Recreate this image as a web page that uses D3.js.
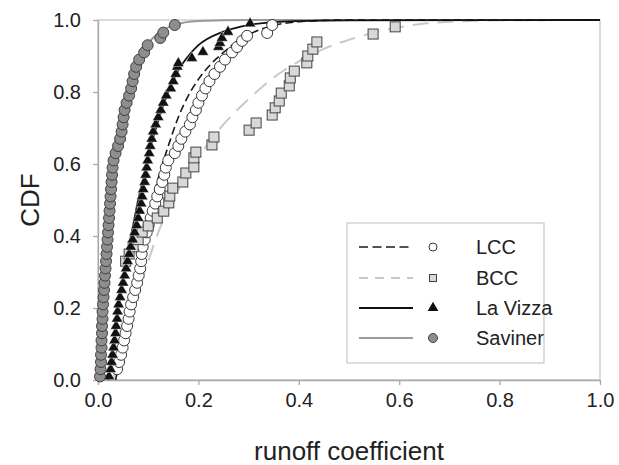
<!DOCTYPE html>
<html>
<head>
<meta charset="utf-8">
<script src="https://cdn.jsdelivr.net/npm/d3@7"></script>
<style>
  body { margin: 0; background: #fff; }
  text { font-family: "Liberation Sans", Arial, sans-serif; fill: #222; }
</style>
</head>
<body>
<div id="chart"></div>
<script>
const SIZE = { width: 619, height: 465 };
const MARGIN = { left: 98, right: 19, top: 20, bottom: 85 };

// tick values
const xTicks = [0, 0.2, 0.4, 0.6, 0.8, 1.0];
const yTicks = [0, 0.2, 0.4, 0.6, 0.8, 1.0];

// observed points, [runoff coefficient, CDF]
const saviner = [
  [0.004,0.01],[0.005,0.03],[0.006,0.05],[0.006,0.07],[0.007,0.09],[0.007,0.11],[0.008,0.13],
  [0.008,0.15],[0.009,0.17],[0.009,0.19],[0.010,0.21],[0.011,0.23],[0.012,0.25],[0.013,0.27],
  [0.014,0.29],[0.015,0.31],[0.016,0.33],[0.017,0.35],[0.018,0.37],[0.019,0.39],[0.020,0.41],
  [0.021,0.43],[0.022,0.45],[0.023,0.47],[0.024,0.49],[0.025,0.51],[0.026,0.53],[0.027,0.55],
  [0.028,0.57],[0.029,0.59],[0.031,0.61],[0.035,0.63],[0.040,0.65],[0.044,0.67],[0.047,0.69],
  [0.049,0.71],[0.051,0.73],[0.053,0.75],[0.057,0.77],[0.062,0.79],[0.066,0.81],[0.069,0.83],
  [0.072,0.85],[0.076,0.87],[0.082,0.89],[0.092,0.91],[0.099,0.93],[0.124,0.95],[0.130,0.965],
  [0.153,0.986]
];
const laVizza = [
  [0.022,0.01],[0.025,0.03],[0.027,0.05],[0.029,0.07],[0.031,0.09],[0.033,0.11],[0.035,0.13],
  [0.036,0.15],[0.038,0.17],[0.039,0.19],[0.041,0.21],[0.044,0.23],[0.047,0.25],[0.050,0.27],
  [0.053,0.29],[0.056,0.31],[0.059,0.33],[0.062,0.35],[0.065,0.37],[0.069,0.39],[0.073,0.41],
  [0.077,0.43],[0.080,0.45],[0.083,0.47],[0.086,0.49],[0.088,0.51],[0.090,0.53],[0.093,0.55],
  [0.095,0.57],[0.097,0.59],[0.099,0.61],[0.102,0.63],[0.104,0.65],[0.107,0.67],[0.110,0.69],
  [0.115,0.71],[0.120,0.73],[0.125,0.75],[0.130,0.77],[0.136,0.79],[0.145,0.81],[0.150,0.83],
  [0.155,0.85],[0.158,0.87],[0.160,0.88],[0.187,0.894],[0.209,0.911],[0.240,0.925],
  [0.243,0.936],[0.247,0.95],[0.259,0.967],[0.303,0.99]
];
const lcc = [
  [0.038,0.03],[0.042,0.05],[0.046,0.07],[0.049,0.09],[0.052,0.11],[0.055,0.13],[0.058,0.15],
  [0.061,0.17],[0.063,0.19],[0.066,0.21],[0.070,0.23],[0.074,0.25],[0.078,0.27],[0.081,0.29],
  [0.084,0.31],[0.086,0.33],[0.087,0.35],[0.089,0.37],[0.093,0.39],[0.097,0.41],[0.101,0.43],
  [0.105,0.45],[0.109,0.47],[0.114,0.49],[0.118,0.51],[0.123,0.53],[0.128,0.55],[0.132,0.57],
  [0.135,0.59],[0.140,0.61],[0.153,0.63],[0.160,0.65],[0.166,0.67],[0.174,0.69],[0.183,0.71],
  [0.188,0.73],[0.195,0.75],[0.200,0.77],[0.207,0.79],[0.214,0.81],[0.222,0.83],[0.232,0.85],
  [0.243,0.87],[0.253,0.89],[0.267,0.91],[0.277,0.925],[0.287,0.942],[0.297,0.956],
  [0.337,0.964],[0.347,0.986]
];
const bcc = [
  [0.055,0.33],[0.062,0.35],[0.070,0.37],[0.080,0.39],[0.088,0.411],[0.100,0.428],[0.118,0.45],
  [0.131,0.469],[0.141,0.492],[0.143,0.511],[0.149,0.533],[0.169,0.55],[0.175,0.575],
  [0.191,0.592],[0.191,0.617],[0.195,0.633],[0.227,0.653],[0.231,0.675],[0.301,0.694],
  [0.315,0.714],[0.347,0.736],[0.353,0.756],[0.361,0.775],[0.365,0.797],[0.381,0.817],
  [0.383,0.839],[0.391,0.858],[0.416,0.881],[0.418,0.9],[0.428,0.919],[0.436,0.939],
  [0.548,0.961],[0.592,0.981]
];

// fitted curves
const savinerFit = [
  [0,0],[0.005,0.12],[0.01,0.24],[0.02,0.42],[0.03,0.56],[0.04,0.67],[0.05,0.75],[0.06,0.81],
  [0.08,0.89],[0.10,0.935],[0.12,0.963],[0.15,0.985],[0.2,0.997],[0.3,1],[1,1]
];
const laVizzaFit = [
  [0.02,0],[0.03,0.08],[0.04,0.19],[0.05,0.28],[0.06,0.36],[0.07,0.43],[0.08,0.50],[0.09,0.56],
  [0.10,0.62],[0.12,0.72],[0.14,0.80],[0.16,0.86],[0.18,0.90],[0.20,0.93],[0.25,0.968],
  [0.30,0.986],[0.35,0.994],[0.40,0.997],[0.5,0.999],[1,1]
];
const lccFit = [
  [0.035,0],[0.05,0.10],[0.06,0.18],[0.07,0.26],[0.08,0.33],[0.09,0.39],[0.10,0.45],[0.12,0.56],
  [0.14,0.65],[0.16,0.73],[0.18,0.79],[0.20,0.835],[0.22,0.87],[0.25,0.91],[0.28,0.943],
  [0.32,0.972],[0.36,0.988],[0.40,0.995],[0.45,0.999],[0.5,1],[1,1]
];
const bccFit = [
  [0.03,0],[0.05,0.11],[0.08,0.25],[0.10,0.33],[0.12,0.41],[0.15,0.50],[0.18,0.58],[0.20,0.62],
  [0.25,0.71],[0.30,0.78],[0.35,0.84],[0.40,0.885],[0.45,0.92],[0.50,0.945],[0.55,0.965],
  [0.60,0.98],[0.65,0.99],[0.70,0.995],[0.80,0.999],[1.0,1.0]
];

const legendNames = ["LCC", "BCC", "La Vizza", "Saviner"];

const svg = d3.select("#chart").append("svg")
  .attr("width", SIZE.width)
  .attr("height", SIZE.height);

const xScale = d3.scaleLinear().domain([0, 1]).range([MARGIN.left, SIZE.width - MARGIN.right]);
const yScale = d3.scaleLinear().domain([0, 1]).range([SIZE.height - MARGIN.bottom, MARGIN.top]);

// plot frame
svg.append("rect")
  .attr("x", MARGIN.left).attr("y", MARGIN.top)
  .attr("width", xScale(1) - MARGIN.left).attr("height", yScale(0) - MARGIN.top)
  .attr("fill", "none").attr("stroke", "#c4c4c4").attr("stroke-width", 1.2);

const xAxis = d3.axisBottom(xScale).tickValues(xTicks).tickFormat(d3.format(".1f"))
  .tickSize(5).tickPadding(8).tickSizeOuter(0);
const yAxis = d3.axisLeft(yScale).tickValues(yTicks).tickFormat(d3.format(".1f"))
  .tickSize(5).tickPadding(12).tickSizeOuter(0);

const xG = svg.append("g").attr("transform", `translate(0, ${yScale(0)})`).call(xAxis);
const yG = svg.append("g").attr("transform", `translate(${MARGIN.left}, 0)`).call(yAxis);
[xG, yG].forEach(g => {
  g.select(".domain").attr("stroke", "#a8a8a8").attr("stroke-width", 1.3);
  g.selectAll(".tick line").attr("stroke", "#a8a8a8").attr("stroke-width", 1.3);
  g.selectAll(".tick text").style("font-size", "20px").attr("fill", "#222");
});

svg.append("text")
  .attr("x", (xScale(0) + xScale(1)) / 2).attr("y", 460)
  .attr("text-anchor", "middle").style("font-size", "26px")
  .text("runoff coefficient");
svg.append("text")
  .attr("transform", `translate(39, ${yScale(0.5)}) rotate(-90)`)
  .attr("text-anchor", "middle").style("font-size", "26px")
  .text("CDF");

const line = d3.line().x(d => xScale(d[0])).y(d => yScale(d[1])).curve(d3.curveMonotoneX);

const styles = {
  lcc:     { stroke: "#1a1a1a", width: 1.6, dash: "8,4" },
  bcc:     { stroke: "#c8c8c8", width: 2,   dash: "16,9" },
  laVizza: { stroke: "#111",    width: 1.8, dash: null },
  saviner: { stroke: "#9a9a9a", width: 2,   dash: null },
};

const visual = svg.append("g");
[[bccFit, styles.bcc], [savinerFit, styles.saviner], [lccFit, styles.lcc], [laVizzaFit, styles.laVizza]]
  .forEach(([data, s]) => {
    visual.append("path").datum(data)
      .attr("d", line)
      .attr("fill", "none")
      .attr("stroke", s.stroke)
      .attr("stroke-width", s.width)
      .attr("stroke-dasharray", s.dash);
  });

// markers
visual.append("g").selectAll("circle").data(lcc).enter().append("circle")
  .attr("cx", d => xScale(d[0])).attr("cy", d => yScale(d[1])).attr("r", 5.5)
  .attr("fill", "#fff").attr("stroke", "#222").attr("stroke-width", 0.9);

visual.append("g").selectAll("rect").data(bcc).enter().append("rect")
  .attr("x", d => xScale(d[0]) - 5).attr("y", d => yScale(d[1]) - 5)
  .attr("width", 10).attr("height", 10)
  .attr("fill", "#d8d8d8").attr("stroke", "#444").attr("stroke-width", 1);

const tri = d3.symbol().type(d3.symbolTriangle).size(55);
visual.append("g").selectAll("path").data(laVizza).enter().append("path")
  .attr("d", tri)
  .attr("transform", d => `translate(${xScale(d[0])}, ${yScale(d[1])})`)
  .attr("fill", "#111").attr("stroke", "#fff").attr("stroke-width", 0.4);

visual.append("g").selectAll("circle").data(saviner).enter().append("circle")
  .attr("cx", d => xScale(d[0])).attr("cy", d => yScale(d[1])).attr("r", 5.5)
  .attr("fill", "#8e8e8e").attr("stroke", "#333").attr("stroke-width", 0.9);

// legend
const legend = svg.append("g");
legend.append("rect")
  .attr("x", 347).attr("y", 223).attr("width", 197).attr("height", 140)
  .attr("fill", "#fff").attr("stroke", "#c8c8c8").attr("stroke-width", 1.2);

const rowY = [247, 278, 308, 338];
const legendStyles = [styles.lcc, styles.bcc, styles.laVizza, styles.saviner];
legendNames.forEach((name, i) => {
  const s = legendStyles[i];
  const y = rowY[i];
  legend.append("line")
    .attr("x1", 359).attr("x2", 413).attr("y1", y).attr("y2", y)
    .attr("stroke", s.stroke).attr("stroke-width", s.width)
    .attr("stroke-dasharray", i === 0 ? "9,4.5" : i === 1 ? "9,7" : null);
  legend.append("text")
    .attr("x", 476).attr("y", y).attr("dy", "0.36em")
    .style("font-size", "20px").text(name);
});
const mx = 433;
legend.append("circle").attr("cx", mx).attr("cy", rowY[0]).attr("r", 4)
  .attr("fill", "#fff").attr("stroke", "#222").attr("stroke-width", 0.9);
legend.append("rect").attr("x", mx - 3.5).attr("y", rowY[1] - 3.5).attr("width", 7).attr("height", 7)
  .attr("fill", "#d8d8d8").attr("stroke", "#444").attr("stroke-width", 1);
legend.append("path").attr("d", d3.symbol().type(d3.symbolTriangle).size(50))
  .attr("transform", `translate(${mx}, ${rowY[2]})`).attr("fill", "#111");
legend.append("circle").attr("cx", mx).attr("cy", rowY[3]).attr("r", 4.5)
  .attr("fill", "#8e8e8e").attr("stroke", "#333").attr("stroke-width", 0.9);
</script>
</body>
</html>
